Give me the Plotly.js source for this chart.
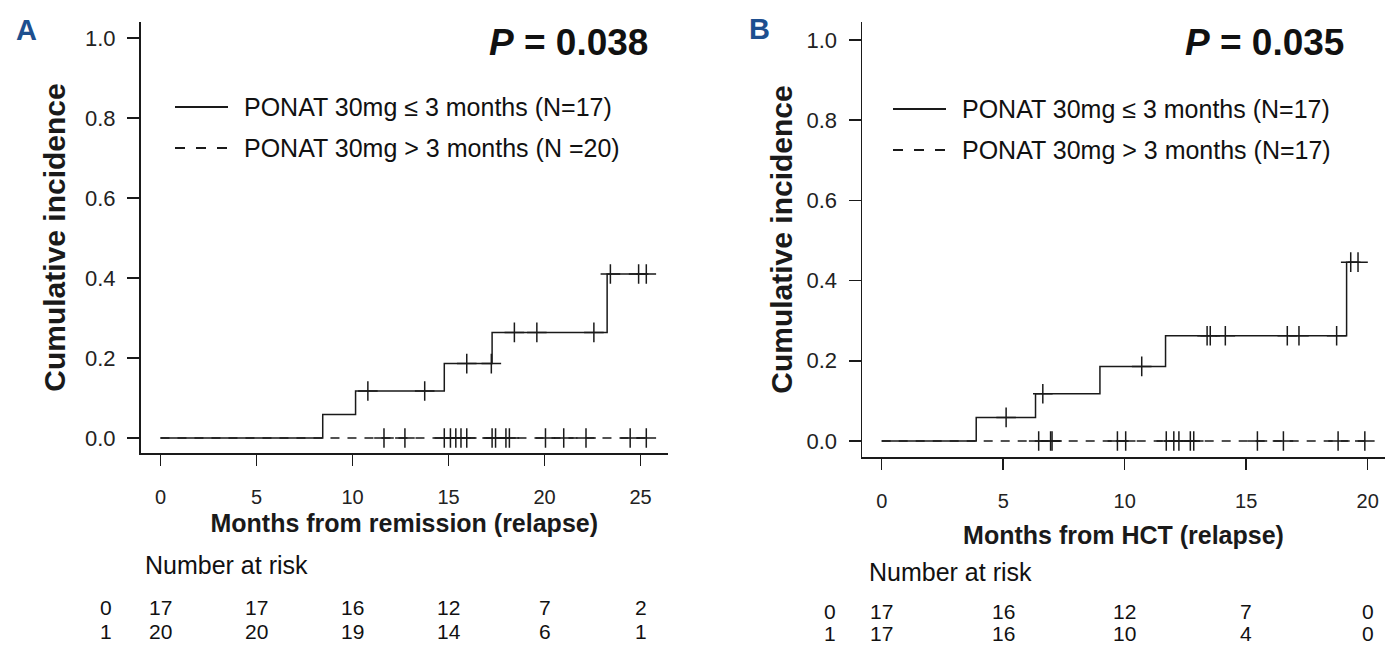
<!DOCTYPE html>
<html>
<head>
<meta charset="utf-8">
<script src="https://cdn.plot.ly/plotly-3.0.1.min.js"></script>
<style>
html,body{margin:0;padding:0;background:#fff;}
#chart{width:1385px;height:645px;}
</style>
</head>
<body>
<div id="chart"></div>
<script>
// ---------- DATA ----------
// Panel A: months from remission (relapse)
const aEventTimes = [8.45, 10.16, 14.78, 17.27, 23.26];
const aEventCIF   = [0.0588, 0.1176, 0.186, 0.264, 0.41];
const aCensorLow  = [10.8, 13.76, 15.95, 17.23, 18.43, 19.6, 22.57, 23.43, 24.9, 25.3];
const aCensorHigh = [11.64, 12.73, 14.78, 15.1, 15.38, 15.65, 15.95, 17.27, 17.45, 17.99, 18.17, 20.05, 21.0, 22.16, 24.46, 25.3];
const aRiskTimes  = [0, 5, 10, 15, 20, 25];
const aRiskLow    = [17, 17, 16, 12, 7, 2];
const aRiskHigh   = [20, 20, 19, 14, 6, 1];

// Panel B: months from HCT (relapse)
const bEventTimes = [3.89, 6.33, 8.98, 11.68, 19.13];
const bEventCIF   = [0.0588, 0.1176, 0.186, 0.2625, 0.446];
const bCensorLow  = [5.12, 6.63, 10.7, 13.39, 13.52, 14.14, 16.69, 17.17, 18.72, 19.3, 19.6];
const bCensorHigh = [6.46, 6.95, 7.01, 9.7, 10.04, 11.71, 12.02, 12.23, 12.7, 12.84, 15.46, 16.53, 18.78, 19.88];
const bRiskTimes  = [0, 5, 10, 15, 20];
const bRiskLow    = [17, 16, 12, 7, 0];
const bRiskHigh   = [17, 16, 10, 4, 0];

const xTicksA = [0, 5, 10, 15, 20, 25];
const xTicksB = [0, 5, 10, 15, 20];
const yTicks  = [0, 0.2, 0.4, 0.6, 0.8, 1.0];
const yTickText = ['0.0', '0.2', '0.4', '0.6', '0.8', '1.0'];

const legendLow  = 'PONAT 30mg \u2264 3 months (N=17)';
const legendHighA = 'PONAT 30mg > 3 months (N =20)';
const legendHighB = 'PONAT 30mg > 3 months (N=17)';
const pA = '<i>P</i> = 0.038';
const pB = '<i>P</i> = 0.035';

// ---------- helpers ----------
function stepAt(times, vals, t) {
  let v = 0;
  for (let i = 0; i < times.length; i++) if (times[i] <= t) v = vals[i];
  return v;
}
function stepCurve(times, vals, tEnd) {
  return { x: [0].concat(times, [tEnd]), y: [0].concat(vals, [vals[vals.length - 1]]) };
}

const INK = '#1a1a1a';
const FONT = 'Liberation Sans, Arial, Helvetica, sans-serif';

function panelTraces(evT, evV, cLow, cHigh, xa, ya) {
  const endLow = Math.max(...cLow);
  const endHigh = Math.max(...cHigh);
  const curve = stepCurve(evT, evV, endLow);
  return [
    { x: [0, endHigh], y: [0, 0], xaxis: xa, yaxis: ya, mode: 'lines',
      line: { color: INK, width: 1.5, dash: '9px,8px' }, hoverinfo: 'skip', showlegend: false },
    { x: cHigh, y: cHigh.map(() => 0), xaxis: xa, yaxis: ya, mode: 'markers',
      marker: { symbol: 'cross-thin', size: 14, line: { color: INK, width: 1.5 } }, showlegend: false },
    { x: curve.x, y: curve.y, xaxis: xa, yaxis: ya, mode: 'lines',
      line: { color: INK, width: 1.5, shape: 'hv' }, showlegend: false },
    { x: cLow, y: cLow.map(t => stepAt(evT, evV, t)), xaxis: xa, yaxis: ya, mode: 'markers',
      marker: { symbol: 'cross-thin', size: 14, line: { color: INK, width: 1.5 } }, showlegend: false }
  ];
}

const data = [].concat(
  panelTraces(aEventTimes, aEventCIF, aCensorLow, aCensorHigh, 'x', 'y'),
  panelTraces(bEventTimes, bEventCIF, bCensorLow, bCensorHigh, 'x2', 'y2')
);

const W = 1385, H = 645;
const px = v => v / W;
const py = v => 1 - v / H;

function xAxis(domain, range, ticks, titleText, standoff) {
  return {
    domain: domain, range: range, tickvals: ticks, ticktext: ticks.map(String),
    showline: true, linecolor: INK, linewidth: 1.5, mirror: false,
    ticks: 'outside', ticklen: 11, tickwidth: 1.5, tickcolor: INK,
    ticklabelstandoff: 14,
    showgrid: false, zeroline: false, fixedrange: true,
    tickfont: { family: FONT, size: 20, color: '#222' },
    title: { text: titleText, font: { family: FONT, size: 25, color: INK, weight: 'bold' }, standoff: standoff }
  };
}
function yAxis(domain, range, anchor, standoff) {
  return {
    domain: domain, range: range, anchor: anchor, tickvals: yTicks, ticktext: yTickText,
    showline: true, linecolor: INK, linewidth: 1.5, mirror: false,
    ticks: 'outside', ticklen: 12, tickwidth: 1.5, tickcolor: INK,
    ticklabelstandoff: 7,
    showgrid: false, zeroline: false, fixedrange: true,
    tickfont: { family: FONT, size: 22, color: '#222' },
    title: { text: 'Cumulative incidence', font: { family: FONT, size: 30, color: INK, weight: 'bold' }, standoff: standoff }
  };
}

const annotations = [];
const shapes = [];

function addPanelDecor(cfg) {
  // panel letter
  annotations.push({ xref: 'paper', yref: 'paper', x: px(cfg.letterX), y: py(cfg.letterY), text: '<b>' + cfg.letter + '</b>',
    showarrow: false, xanchor: 'center', yanchor: 'middle', font: { family: FONT, size: 29, color: '#1d4f8f' } });
  // P value
  annotations.push({ xref: 'paper', yref: 'paper', x: px(cfg.pRight), y: py(42), text: '<b>' + cfg.p + '</b>',
    showarrow: false, xanchor: 'right', yanchor: 'middle', font: { family: FONT, size: 37, color: '#111' } });
  // legend
  const rows = [{ y: cfg.legY1, dash: 'solid', text: legendLow }, { y: cfg.legY2, dash: '10px,11px', text: cfg.legHigh }];
  rows.forEach(r => {
    shapes.push({ type: 'line', xref: 'paper', yref: 'paper', x0: px(cfg.legX0), x1: px(cfg.legX0 + 53), y0: py(r.y), y1: py(r.y),
      line: { color: INK, width: 2, dash: r.dash } });
    annotations.push({ xref: 'paper', yref: 'paper', x: px(cfg.legX0 + 67), y: py(r.y), text: r.text, showarrow: false,
      xanchor: 'left', yanchor: 'middle', font: { family: FONT, size: 25, color: '#111' } });
  });
  // number at risk
  annotations.push({ xref: 'paper', yref: 'paper', x: px(cfg.narX), y: py(cfg.narY), text: 'Number at risk', showarrow: false,
    xanchor: 'left', yanchor: 'middle', font: { family: FONT, size: 25, color: '#111' } });
  [{ lab: '0', vals: cfg.riskLow, y: cfg.row1Y }, { lab: '1', vals: cfg.riskHigh, y: cfg.row2Y }].forEach(r => {
    annotations.push({ xref: 'paper', yref: 'paper', x: px(cfg.rowLabX), y: py(r.y), text: r.lab, showarrow: false,
      xanchor: 'center', yanchor: 'middle', font: { family: FONT, size: 21, color: '#111' } });
    cfg.riskTimes.forEach((t, i) => {
      annotations.push({ xref: cfg.xref, yref: 'paper', x: t, y: py(r.y), text: String(r.vals[i]), showarrow: false,
        xanchor: 'center', yanchor: 'middle', font: { family: FONT, size: 21, color: '#111' } });
    });
  });
}

addPanelDecor({ letter: 'A', letterX: 26, letterY: 30, p: pA, pRight: 650, legX0: 175, legY1: 107, legY2: 148,
  legHigh: legendHighA, narX: 143, narY: 565, row1Y: 607, row2Y: 631, rowLabX: 106,
  riskTimes: aRiskTimes, riskLow: aRiskLow, riskHigh: aRiskHigh, xref: 'x' });
addPanelDecor({ letter: 'B', letterX: 759, letterY: 29, p: pB, pRight: 1346, legX0: 893, legY1: 109, legY2: 150,
  legHigh: legendHighB, narX: 867, narY: 572, row1Y: 611, row2Y: 633, rowLabX: 830,
  riskTimes: bRiskTimes, riskLow: bRiskLow, riskHigh: bRiskHigh, xref: 'x2' });

const layout = {
  width: W, height: H, margin: { l: 0, r: 0, t: 0, b: 0 },
  paper_bgcolor: '#fff', plot_bgcolor: '#fff', showlegend: false,
  xaxis: xAxis([px(140.5), px(668)], [-1.04, 26.43], xTicksA, 'Months from remission (relapse)', 8),
  yaxis: yAxis([1 - 453 / H, 1 - 22 / H], [-0.0375, 1.04], 'x', 10),
  xaxis2: xAxis([px(862), 1], [-0.81, 20.71], xTicksB, 'Months from HCT (relapse)', 16),
  yaxis2: yAxis([1 - 457 / H, 1 - 22 / H], [-0.04, 1.045], 'x2', 5),
  annotations: annotations, shapes: shapes
};
layout.xaxis.anchor = 'y';
layout.xaxis2.anchor = 'y2';

Plotly.newPlot('chart', data, layout, { staticPlot: true, displayModeBar: false });
</script>
</body>
</html>
